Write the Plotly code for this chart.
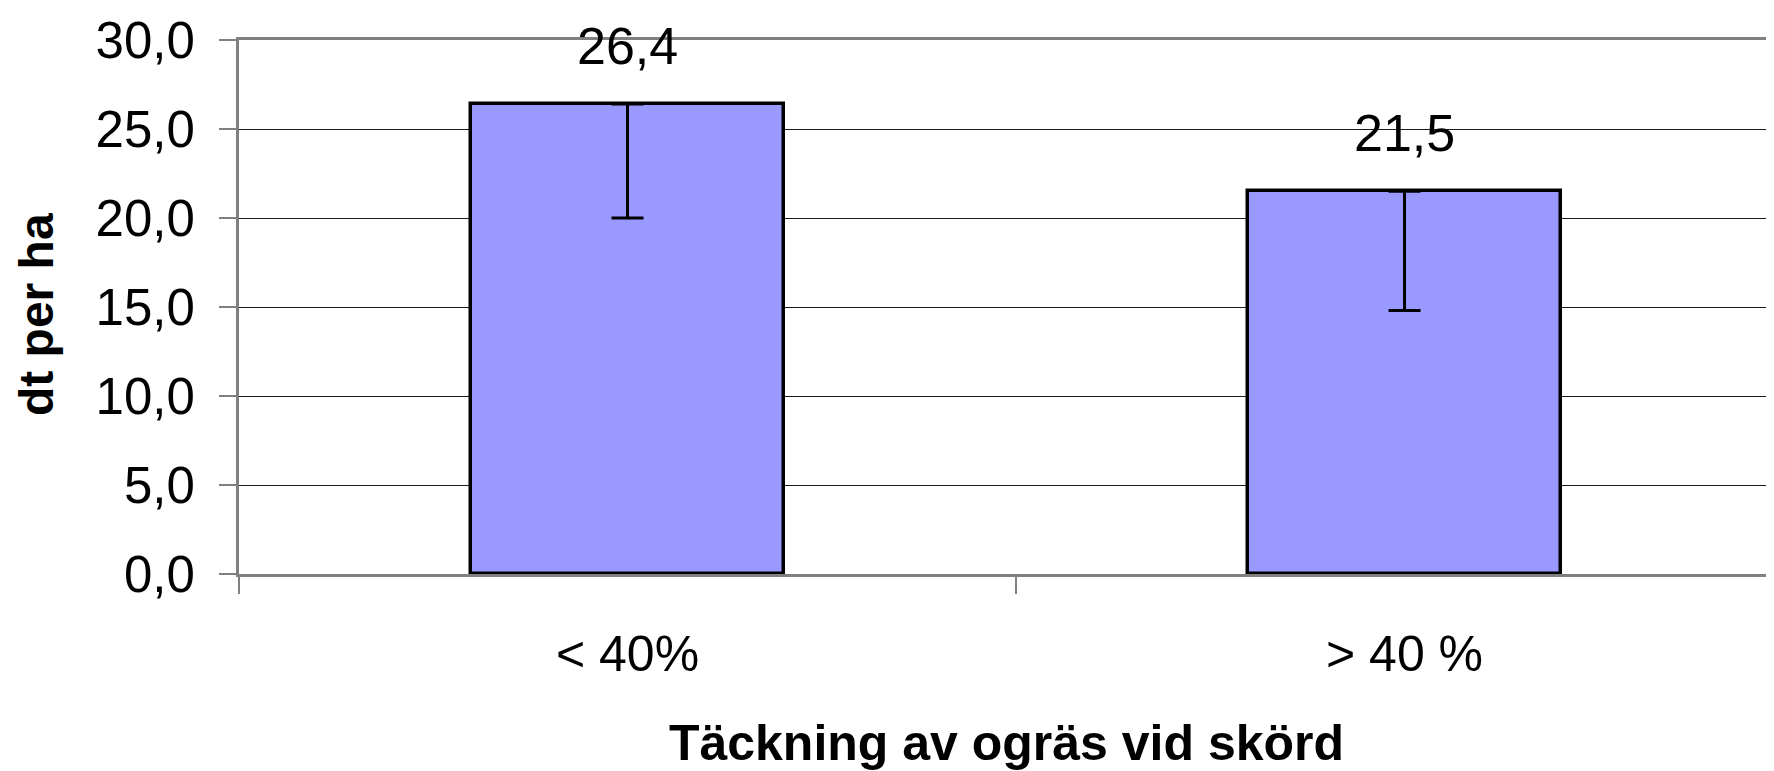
import plotly.graph_objects as go

categories = ["< 40%", "> 40 %"]
values = [26.4, 21.5]
err_minus = [6.4, 6.7]
err_plus = [0, 0]
value_labels = ["26,4", "21,5"]
y_tickvals = [0, 5, 10, 15, 20, 25, 30]
y_ticktext = ["0,0", "5,0", "10,0", "15,0", "20,0", "25,0", "30,0"]

FONT = "Liberation Sans, Arial, sans-serif"

# the page body has an 8px default margin; compensate so the plot sits where the reference does
OFF = 8

fig = go.Figure()
fig.add_trace(go.Bar(
    x=categories, y=values, width=0.403,
    marker=dict(color="#9999FF", line=dict(color="#000000", width=3.5)),
    error_y=dict(type="data", symmetric=False, array=err_plus, arrayminus=err_minus,
                 color="#000000", thickness=3, width=16),
    showlegend=False, hoverinfo="skip",
))

for c, v, t in zip(categories, values, value_labels):
    fig.add_annotation(x=c, y=v, text=t, showarrow=False, yanchor="bottom",
                       yshift=27, font=dict(family=FONT, size=52, color="#000000"))

# y-axis title
fig.add_annotation(xref="paper", yref="paper", x=-0.1322, y=0.485, text="<b>dt per ha</b>",
                   textangle=-90, showarrow=False, xanchor="center", yanchor="middle",
                   font=dict(family=FONT, size=48, color="#000000"))

fig.update_layout(
    width=1774, height=771,
    margin=dict(l=239 - OFF, r=OFF, t=40 - OFF, b=197 + OFF),
    paper_bgcolor="white", plot_bgcolor="white",
    font=dict(family=FONT, color="#000000"),
    bargap=0,
)
fig.update_xaxes(
    range=[-0.5, 1.4755],
    tickson="boundaries", ticks="outside", ticklen=17, tickwidth=2, tickcolor="#808080",
    showline=True, linecolor="#808080", linewidth=3, mirror=True,
    showgrid=False, zeroline=False,
    tickfont=dict(family=FONT, size=50, color="#000000"), ticklabelstandoff=34,
    title=dict(text="<b>Täckning av ogräs vid skörd</b>", font=dict(family=FONT, size=50, color="#000000"), standoff=44),
    automargin=False,
)
fig.update_yaxes(
    range=[0, 30], tickvals=y_tickvals, ticktext=y_ticktext,
    ticks="outside", ticklen=17, tickwidth=2, tickcolor="#808080",
    showline=True, linecolor="#808080", linewidth=3,
    showgrid=True, gridcolor="#1a1a1a", gridwidth=1, zeroline=False,
    tickfont=dict(family=FONT, size=51, color="#000000"), ticklabelstandoff=14,
    automargin=False,
)

fig.write_html("out.html")
